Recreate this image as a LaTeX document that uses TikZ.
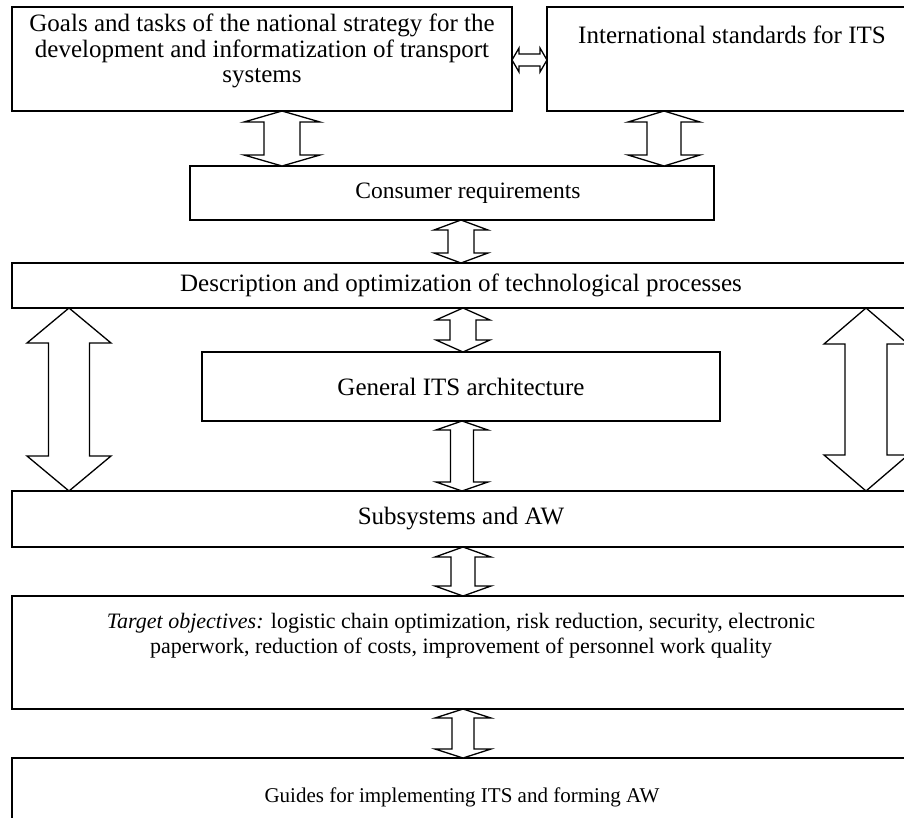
\documentclass[tikz,border=0pt]{standalone}
\usepackage{fontspec}
\setmainfont{Liberation Serif}
\usetikzlibrary{calc}

% vertical two-headed block arrow: x, from, to, shaft half width, head half width, head length
\newcommand{\vbiarrow}[6]{%
  \draw[blockarrow] let \p1 = (#2), \p2 = (#3) in
    (#1pt,\y1) -- (#1pt+#5pt,\y1-#6pt) -- (#1pt+#4pt,\y1-#6pt) -- (#1pt+#4pt,\y2+#6pt)
    -- (#1pt+#5pt,\y2+#6pt) -- (#1pt,\y2) -- (#1pt-#5pt,\y2+#6pt) -- (#1pt-#4pt,\y2+#6pt)
    -- (#1pt-#4pt,\y1-#6pt) -- (#1pt-#5pt,\y1-#6pt) -- cycle;}
% horizontal two-headed block arrow: y, from, to, shaft half height, head half height, head length
\newcommand{\hbiarrow}[6]{%
  \draw[blockarrow] let \p1 = (#2), \p2 = (#3) in
    (\x1,-#1pt) -- (\x1+#6pt,-#1pt+#5pt) -- (\x1+#6pt,-#1pt+#4pt) -- (\x2-#6pt,-#1pt+#4pt)
    -- (\x2-#6pt,-#1pt+#5pt) -- (\x2,-#1pt) -- (\x2-#6pt,-#1pt-#5pt) -- (\x2-#6pt,-#1pt-#4pt)
    -- (\x1+#6pt,-#1pt-#4pt) -- (\x1+#6pt,-#1pt-#5pt) -- cycle;}

\begin{document}
\begin{tikzpicture}[
    x = 1pt, y = -1pt,
    every node/.style = {font = \fontsize{25}{25.5}\selectfont},
    box/.style = {draw, line width = 1.3pt, inner sep = 0pt, outer sep = 0pt,
                  anchor = north west, align = center},
    txt/.style = {inner sep = 0pt, align = center},
    blockarrow/.style = {draw, line width = 1.3pt, fill = white, line join = miter}
]
\useasboundingbox (0,0) rectangle (904,817);

% Boxes
\node[box, minimum width = 500pt, minimum height = 104pt] (goals) at (12,7) {};
\node[txt] (goalstxt) at (262,51)
    {Goals and tasks of the national strategy for the\\
     development and informatization of transport\\
     systems};
\node[box, minimum width = 370pt, minimum height = 104pt] (intl) at (547,7) {};
\node[txt] (intltxt) at (732,35) {International standards for ITS};

\node[box, minimum width = 524pt, minimum height = 54pt]  (consumer) at (190,166) {};
\node[txt, font = \fontsize{23.5}{26}\selectfont] (consumertxt) at (468,193) {Consumer requirements};
\node[box, minimum width = 898pt, minimum height = 45pt]  (descr)    at (12,263)  {Description and optimization of technological processes};
\node[box, minimum width = 518pt, minimum height = 69pt]  (general)  at (202,352) {General ITS architecture};
\node[box, minimum width = 898pt, minimum height = 56pt]  (subsys)   at (12,491)  {Subsystems and AW};

\node[box, minimum width = 898pt, minimum height = 113pt] (target) at (12,596) {};
\node[txt, font = \fontsize{22}{25}\selectfont] (targettxt) at (461,636)
    {\textit{Target objectives:} logistic chain optimization, risk reduction, security, electronic\\
     paperwork, reduction of costs, improvement of personnel work quality};

\node[box, minimum width = 898pt, minimum height = 80pt]  (guides) at (12,758) {};
\node[txt, font = \fontsize{21}{24}\selectfont] (guidestxt) at (462,797) {Guides for implementing ITS and forming AW};

% Arrows
\hbiarrow{60}{goals.east}{intl.west}{6}{12}{7}
\vbiarrow{282}{goals.south}{consumer.north}{18}{38}{11}
\vbiarrow{664}{intl.south}{consumer.north}{17}{36}{11}
\vbiarrow{461}{consumer.south}{descr.north}{13}{27}{10}
\vbiarrow{463}{descr.south}{general.north}{13}{27}{12}
\vbiarrow{462}{general.south}{subsys.north}{11.5}{26}{9}
\vbiarrow{69}{descr.south}{subsys.north}{20.5}{42}{35}
\vbiarrow{866}{descr.south}{subsys.north}{21}{42}{36}
\vbiarrow{463}{subsys.south}{target.north}{12}{28}{10}
\vbiarrow{463}{target.south}{guides.north}{11}{28}{9}

\end{tikzpicture}
\end{document}
